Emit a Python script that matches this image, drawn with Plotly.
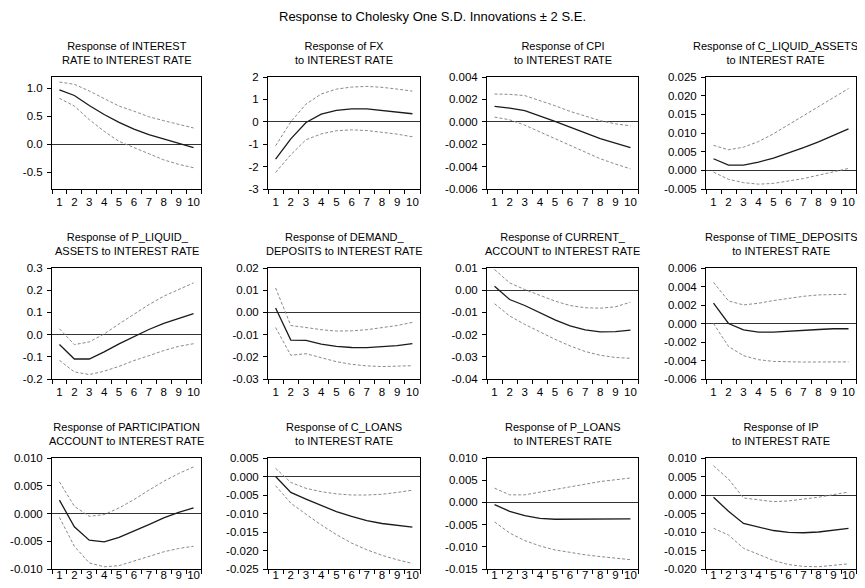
import plotly.graph_objects as go

steps = [1, 2, 3, 4, 5, 6, 7, 8, 9, 10]

# 1 INTEREST RATE
interest_resp = [0.97, 0.87, 0.69, 0.53, 0.39, 0.27, 0.17, 0.09, 0.01, -0.06]
interest_up = [1.11, 1.07, 0.95, 0.81, 0.68, 0.59, 0.49, 0.42, 0.35, 0.29]
interest_lo = [0.82, 0.68, 0.44, 0.23, 0.05, -0.06, -0.18, -0.28, -0.36, -0.42]
# 2 FX
fx_resp = [-1.67, -0.76, -0.03, 0.34, 0.51, 0.58, 0.58, 0.50, 0.43, 0.36]
fx_up = [-1.07, 0.00, 0.79, 1.24, 1.46, 1.55, 1.58, 1.54, 1.46, 1.37]
fx_lo = [-2.26, -1.47, -0.80, -0.54, -0.40, -0.36, -0.39, -0.46, -0.55, -0.67]
# 3 CPI
cpi_resp = [0.00138, 0.00123, 0.00099, 0.00054, 0.00003, -0.00048, -0.00102, -0.0015, -0.0019, -0.0023]
cpi_up = [0.00248, 0.00245, 0.00234, 0.00192, 0.00144, 0.00093, 0.00048, 0.0001, -0.00018, -0.00036]
cpi_lo = [0.00042, 0.00018, -0.0003, -0.0009, -0.00153, -0.00216, -0.00275, -0.0033, -0.00377, -0.0042]
# 4 C_LIQUID_ASSETS
cliq_resp = [0.0031, 0.0014, 0.0014, 0.0022, 0.0033, 0.0046, 0.0061, 0.0076, 0.0094, 0.0111]
cliq_up = [0.0067, 0.0055, 0.0062, 0.0077, 0.0098, 0.0122, 0.0147, 0.0170, 0.0195, 0.0219]
cliq_lo = [-0.0005, -0.0024, -0.0033, -0.0037, -0.0035, -0.0029, -0.0022, -0.0013, -0.0005, 0.0005]
# 5 P_LIQUID_ASSETS
pliq_resp = [-0.045, -0.11, -0.11, -0.078, -0.042, -0.008, 0.023, 0.051, 0.072, 0.095]
pliq_up = [0.026, -0.045, -0.033, 0.003, 0.048, 0.093, 0.135, 0.173, 0.203, 0.233]
pliq_lo = [-0.116, -0.168, -0.18, -0.165, -0.143, -0.117, -0.095, -0.072, -0.053, -0.041]
# 6 DEMAND_DEPOSITS
dem_resp = [0.002, -0.0125, -0.0126, -0.0143, -0.0153, -0.0158, -0.0159, -0.0156, -0.015, -0.0141]
dem_up = [0.011, -0.0059, -0.0068, -0.0078, -0.0084, -0.0083, -0.0078, -0.0069, -0.0059, -0.0045]
dem_lo = [-0.0068, -0.0193, -0.0186, -0.0205, -0.0222, -0.0234, -0.0241, -0.0244, -0.0243, -0.0240]
# 7 CURRENT_ACCOUNT
cur_resp = [0.0018, -0.0042, -0.0069, -0.0101, -0.0134, -0.0161, -0.0179, -0.0188, -0.0187, -0.018]
cur_up = [0.0093, 0.0033, 0.0003, -0.0024, -0.0049, -0.0069, -0.0079, -0.0081, -0.0075, -0.0054]
cur_lo = [-0.0061, -0.0116, -0.0154, -0.0188, -0.0221, -0.0251, -0.0276, -0.0293, -0.0303, -0.0307]
# 8 TIME_DEPOSITS
time_resp = [0.0022, 0.0, -0.00068, -0.00093, -0.00093, -0.00086, -0.00075, -0.00065, -0.00057, -0.00057]
time_up = [0.00445, 0.00244, 0.00201, 0.00219, 0.00248, 0.00273, 0.00294, 0.00309, 0.00316, 0.00316]
time_lo = [0.0, -0.00248, -0.00348, -0.00391, -0.0041, -0.00417, -0.00417, -0.00416, -0.00416, -0.00415]
# 9 PARTICIPATION ACCOUNT
part_resp = [0.0024, -0.0024, -0.0048, -0.0051, -0.0043, -0.0032, -0.002, -0.0008, 0.0002, 0.001]
part_up = [0.0057, 0.0013, -0.0005, -0.0002, 0.001, 0.0025, 0.0042, 0.0058, 0.0072, 0.0084]
part_lo = [-0.0007, -0.0059, -0.0089, -0.0096, -0.0094, -0.0086, -0.0077, -0.0069, -0.0063, -0.0059]
# 10 C_LOANS
cl_resp = [0.0, -0.0043, -0.0061, -0.0079, -0.0095, -0.0108, -0.0119, -0.0127, -0.0133, -0.0137]
cl_up = [0.0022, -0.0016, -0.0032, -0.0041, -0.0047, -0.005, -0.005, -0.0048, -0.0043, -0.0037]
cl_lo = [-0.0025, -0.0072, -0.0102, -0.0131, -0.0157, -0.0180, -0.0198, -0.0213, -0.0225, -0.0235]
# 11 P_LOANS
pl_resp = [-0.0005, -0.002, -0.003, -0.0036, -0.0038, -0.0038, -0.0038, -0.0037, -0.0037, -0.0037]
pl_up = [0.0032, 0.0017, 0.0017, 0.0023, 0.0029, 0.0035, 0.0041, 0.0047, 0.0051, 0.0055]
pl_lo = [-0.0044, -0.0069, -0.0086, -0.0098, -0.0107, -0.0113, -0.0118, -0.0122, -0.0125, -0.0129]
# 12 IP
ip_resp = [-0.0006, -0.0044, -0.0077, -0.0087, -0.0096, -0.0101, -0.0102, -0.0100, -0.0096, -0.0090]
ip_up = [0.0079, 0.0043, -0.0008, -0.0014, -0.0018, -0.0016, -0.0012, -0.0006, 0.0001, 0.0008]
ip_lo = [-0.0090, -0.0108, -0.0144, -0.0161, -0.0177, -0.0188, -0.0193, -0.0194, -0.0191, -0.0186]

titles = [
    "Response of INTEREST<br>RATE to INTEREST RATE",
    "Response of FX<br>to INTEREST RATE",
    "Response of CPI<br>to INTEREST RATE",
    "Response of C_LIQUID_ASSETS<br>to INTEREST RATE",
    "Response of P_LIQUID_<br>ASSETS to INTEREST RATE",
    "Response of DEMAND_<br>DEPOSITS to INTEREST RATE",
    "Response of CURRENT_<br>ACCOUNT to INTEREST RATE",
    "Response of TIME_DEPOSITS<br>to INTEREST RATE",
    "Response of PARTICIPATION<br>ACCOUNT to INTEREST RATE",
    "Response of C_LOANS<br>to INTEREST RATE",
    "Response of P_LOANS<br>to INTEREST RATE",
    "Response of IP<br>to INTEREST RATE",
]

yticks_interest = [-0.5, 0.0, 0.5, 1.0]
yticks_fx = [-3, -2, -1, 0, 1, 2]
yticks_cpi = [-0.006, -0.004, -0.002, 0.0, 0.002, 0.004]
yticks_cliq = [-0.005, 0.0, 0.005, 0.010, 0.015, 0.020, 0.025]
yticks_pliq = [-0.2, -0.1, 0.0, 0.1, 0.2, 0.3]
yticks_dem = [-0.03, -0.02, -0.01, 0.0, 0.01, 0.02]
yticks_cur = [-0.04, -0.03, -0.02, -0.01, 0.0, 0.01]
yticks_time = [-0.006, -0.004, -0.002, 0.0, 0.002, 0.004, 0.006]
yticks_part = [-0.010, -0.005, 0.0, 0.005, 0.010]
yticks_cl = [-0.025, -0.020, -0.015, -0.010, -0.005, 0.0, 0.005]
yticks_pl = [-0.015, -0.010, -0.005, 0.0, 0.005, 0.010]
yticks_ip = [-0.020, -0.015, -0.010, -0.005, 0.0, 0.005, 0.010]

panels = [
    (interest_resp, interest_up, interest_lo, [-0.8, 1.2], yticks_interest, 1),
    (fx_resp, fx_up, fx_lo, [-3, 2], yticks_fx, 0),
    (cpi_resp, cpi_up, cpi_lo, [-0.006, 0.004], yticks_cpi, 3),
    (cliq_resp, cliq_up, cliq_lo, [-0.005, 0.025], yticks_cliq, 3),
    (pliq_resp, pliq_up, pliq_lo, [-0.2, 0.3], yticks_pliq, 1),
    (dem_resp, dem_up, dem_lo, [-0.03, 0.02], yticks_dem, 2),
    (cur_resp, cur_up, cur_lo, [-0.04, 0.01], yticks_cur, 2),
    (time_resp, time_up, time_lo, [-0.006, 0.006], yticks_time, 3),
    (part_resp, part_up, part_lo, [-0.010, 0.010], yticks_part, 3),
    (cl_resp, cl_up, cl_lo, [-0.025, 0.005], yticks_cl, 3),
    (pl_resp, pl_up, pl_lo, [-0.015, 0.010], yticks_pl, 3),
    (ip_resp, ip_up, ip_lo, [-0.020, 0.010], yticks_ip, 3),
]

# page has an 8px body margin, so the figure is offset by (8, 8)
OFF = 8
W, H = 865, 588 - OFF
col_px = [(52, 201), (268, 420), (487, 638), (706, 856)]
row_px = [(77, 189), (268, 379), (458, 569)]
row_xlabel_standoff = [2, 2, -5]
FONT = "Arial, 'Liberation Sans', sans-serif"

fig = go.Figure()
layout = {}
annotations = []
for i, (resp, up, lo, yr, yt, dec) in enumerate(panels):
    r, c = divmod(i, 4)
    k = "" if i == 0 else str(i + 1)
    xa, ya = "x" + k, "y" + k
    for ys, color, dash, w in ((up, "#8a8a8a", "3px,2px", 1), (lo, "#8a8a8a", "3px,2px", 1),
                               (resp, "#1a1a1a", "solid", 1.3)):
        fig.add_trace(go.Scatter(x=steps, y=ys, mode="lines", xaxis=xa, yaxis=ya,
                                 line=dict(color=color, dash=dash, width=w),
                                 showlegend=False, hoverinfo="skip"))
    x0, x1 = col_px[c]
    y0, y1 = row_px[r]
    xd = [(x0 - OFF) / W, (x1 - OFF) / W]
    yd = [1 - (y1 - OFF) / H, 1 - (y0 - OFF) / H]
    layout["xaxis" + k] = dict(
        domain=xd, anchor=ya, range=[0.5, 10.5], tickvals=steps,
        ticktext=[str(s) for s in steps], ticks="", showgrid=False, zeroline=False,
        showline=True, linecolor="black", linewidth=1, mirror=True,
        minor=dict(ticks="outside", tickvals=[s - 0.5 for s in steps] + [10.5],
                   ticklen=4, tickcolor="black", showgrid=False),
        ticklabelstandoff=row_xlabel_standoff[r],
        tickfont=dict(family=FONT, size=11.5, color="black"), automargin=False, fixedrange=True)
    fmt = "{:.%df}" % dec
    layout["yaxis" + k] = dict(
        domain=yd, anchor=xa, range=yr, tickvals=yt,
        ticktext=[fmt.format(v) if abs(v) > 1e-12 else fmt.format(0.0) for v in yt],
        ticks="outside", ticklen=4, tickcolor="black", showgrid=False,
        zeroline=True, zerolinecolor="#333333", zerolinewidth=1,
        showline=True, linecolor="black", linewidth=1, mirror=True, ticklabelstandoff=2,
        tickfont=dict(family=FONT, size=11.5, color="black"), automargin=False, fixedrange=True)
    annotations.append(dict(text=titles[i], x=(xd[0] + xd[1]) / 2, y=yd[1], xref="paper", yref="paper",
                            xanchor="center", yanchor="bottom", yshift=9,
                            xshift=-6 if i == 3 else 0, showarrow=False,
                            font=dict(family=FONT, size=11, color="black")))

annotations.append(dict(text="Response to Cholesky One S.D. Innovations ± 2 S.E.",
                        x=(432.5 - OFF) / W, y=1 - (17 - OFF) / H, xref="paper", yref="paper",
                        xanchor="center", yanchor="middle", showarrow=False,
                        font=dict(family=FONT, size=13, color="black")))

fig.update_layout(width=W, height=H, margin=dict(l=0, r=0, t=0, b=0),
                  paper_bgcolor="white", plot_bgcolor="white",
                  annotations=annotations, **layout)
fig.write_html("out.html")
